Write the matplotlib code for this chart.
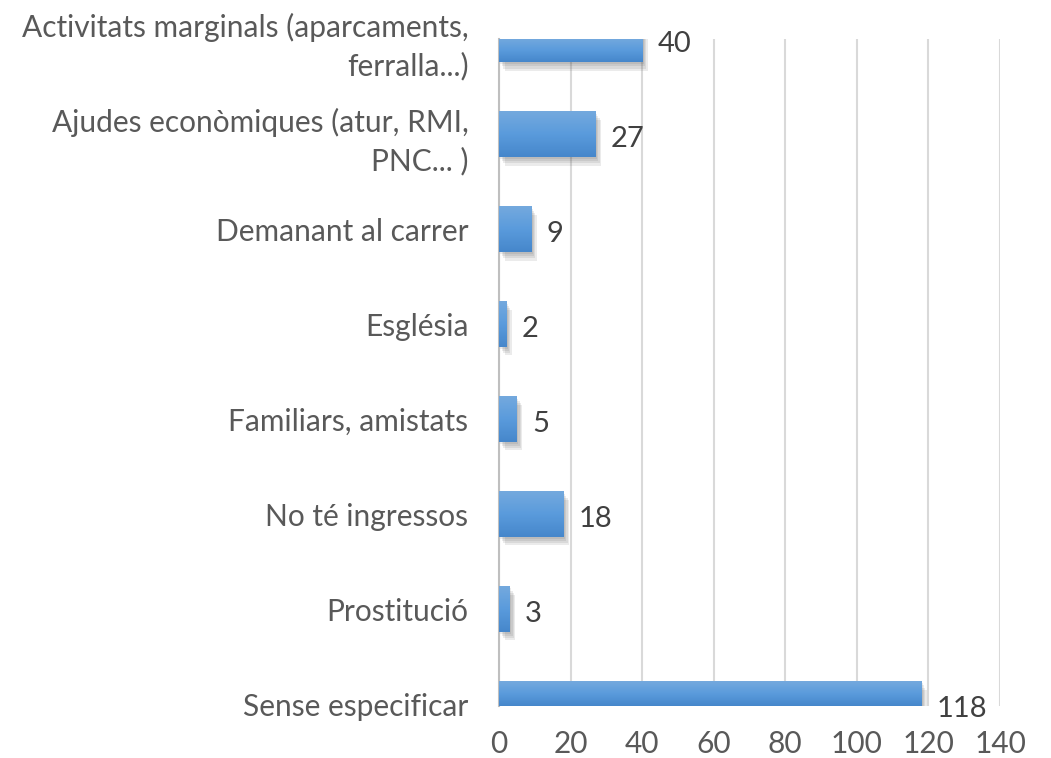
import numpy as np
import matplotlib.pyplot as plt
from matplotlib import patheffects as pe
from matplotlib.colors import LinearSegmentedColormap

categories = ['Activitats marginals (aparcaments,\nferralla...)',
              'Ajudes econòmiques (atur, RMI,\nPNC... )',
              'Demanant al carrer',
              'Església',
              'Familiars, amistats',
              'No té ingressos',
              'Prostitució',
              'Sense especificar']
values = [40, 27, 9, 2, 5, 18, 3, 118]
xticks = [0, 20, 40, 60, 80, 100, 120, 140]

plt.rcParams['font.family'] = ['Lato', 'DejaVu Sans']

fig = plt.figure(figsize=(10.51, 7.58), dpi=100)
ax = fig.add_axes([0.4748, 0.0686, 0.4767, 0.8799])

ylo, yhi = 7.02, -0.005
y = np.arange(len(categories))
bars = ax.barh(y, values, height=0.48, color='#5b9bd5', zorder=3)

# soft shadow: a few faint offset copies
shadow = [pe.SimplePatchShadow(offset=(o, -1.5 * o), shadow_rgbFace='#404040', alpha=0.1)
          for o in (4, 3, 2, 1)]

grad = np.linspace(0, 1, 64).reshape(-1, 1)
cmap = LinearSegmentedColormap.from_list('g', ['#74a9de', '#5a9bdc', '#4687cb'])
for b in bars:
    b.set_path_effects(shadow + [pe.Normal()])
    x0, w = b.get_x(), b.get_width()
    y0 = max(b.get_y(), yhi)
    y1 = min(b.get_y() + b.get_height(), ylo)
    ax.imshow(grad, extent=(x0, x0 + w, y1, y0), aspect='auto',
              cmap=cmap, zorder=4, interpolation='bilinear')

for yi, v in zip(y, values):
    ax.text(v + 4.2, yi + 0.05, str(v), va='center', ha='left',
            fontsize=21, color='#404040', zorder=5)

ax.set_xlim(0, 140)
ax.set_ylim(ylo, yhi)
ax.set_xticks(xticks)
ax.set_xticklabels([str(t) for t in xticks])
ax.set_yticks(y)
ax.set_yticklabels(categories, linespacing=1.4)
ax.tick_params(axis='x', length=0, pad=17, labelsize=21.5, labelcolor='#595959')
ax.tick_params(axis='y', length=0, pad=22, labelsize=21.5, labelcolor='#595959')
ax.grid(axis='x', color='#d9d9d9', linewidth=1.5, zorder=0)
for s in ['top', 'right', 'bottom']:
    ax.spines[s].set_visible(False)
ax.spines['left'].set_color('#bfbfbf')
ax.spines['left'].set_linewidth(1.5)

fig.savefig('out.png', dpi=100)
